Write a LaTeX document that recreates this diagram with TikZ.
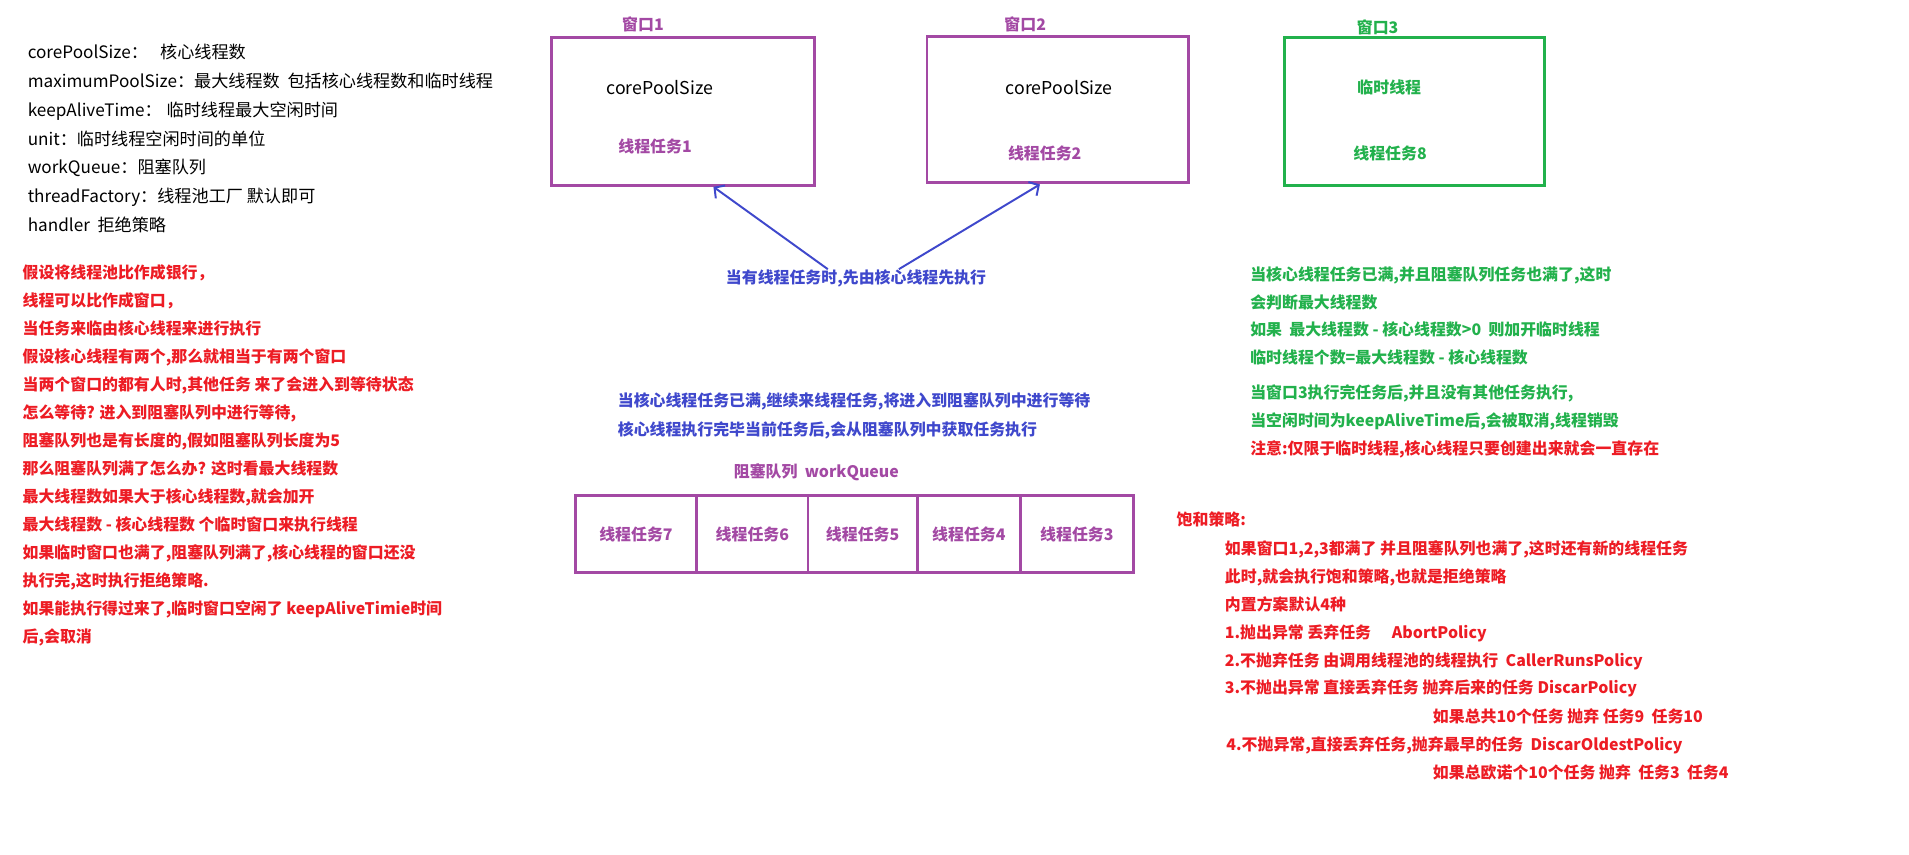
\documentclass[tikz,border=0pt]{standalone}
\usepackage{fontspec}
\setmainfont{Noto Sans CJK SC}
\usetikzlibrary{positioning, arrows.meta}

\definecolor{pred}{HTML}{ED1C24}
\definecolor{pgreen}{HTML}{22B14C}
\definecolor{ppurple}{HTML}{A349A4}
\definecolor{pblue}{HTML}{3F48CC}

\begin{document}
\begin{tikzpicture}[x = 1pt, y = -1pt,
		txt/.style = {anchor = base west, inner sep = 0, align = left},
		note/.style = {txt, font = \fontsize{13}{22.9}\selectfont\bfseries},
		win/.style = {line width = 2.4pt, inner sep = 0},
		cell/.style = {draw = ppurple, line width = 2.2pt, minimum height = 63.2pt, inner sep = 0, outer sep = 0, text = ppurple, font = \fontsize{13}{15}\selectfont\bfseries},
		arr/.style = {draw = pblue, line width = 1.6pt, -{Straight Barb[length = 6pt, width = 13pt]}}]
		\fill [white] (0,0) rectangle (1560,698);
		\useasboundingbox (0,0) rectangle (1560,698);
		
		\node (params) at (22.5,189.2) [txt, font = \fontsize{14}{23.55}\selectfont] {corePoolSize：\hspace{10pt}核心线程数\\maximumPoolSize：最大线程数\ \ 包括核心线程数和临时线程\\keepAliveTime：\hspace{4pt}临时线程最大空闲时间\\unit：临时线程空闲时间的单位\\workQueue：阻塞队列\\threadFactory：线程池工厂 默认即可\\handler\ \ 拒绝策略};
		
		\node (story) at (18.3,525.2) [note, text = pred, font = \fontsize{13}{22.88}\selectfont\bfseries] {假设将线程池比作成银行，\\线程可以比作成窗口，\\当任务来临由核心线程来进行执行\\假设核心线程有两个,那么就相当于有两个窗口\\当两个窗口的都有人时,其他任务 来了会进入到等待状态\\怎么等待? 进入到阻塞队列中进行等待,\\阻塞队列也是有长度的,假如阻塞队列长度为5\\那么阻塞队列满了怎么办? 这时看最大线程数\\最大线程数如果大于核心线程数,就会加开\\最大线程数 - 核心线程数 个临时窗口来执行线程\\如果临时窗口也满了,阻塞队列满了,核心线程的窗口还没\\执行完,这时执行拒绝策略.\\如果能执行得过来了,临时窗口空闲了 keepAliveTimie时间\\后,会取消};
		
		\node (win1) at (558,91.2) [win, draw = ppurple, minimum width = 214.5pt, minimum height = 120.6pt] {};
		\node (lab1) at (525.4,19.9) [note, anchor = center, text = ppurple] {窗口1};
		\node (core1) at (539.3,71.8) [anchor = center, inner sep = 0, font = \fontsize{14.5}{17}\selectfont] {corePoolSize};
		\node (task1) at (535.3,119.6) [note, anchor = center, text = ppurple] {线程任务1};
		
		\node (win2) at (864.3,89.5) [win, draw = ppurple, minimum width = 213.6pt, minimum height = 120pt] {};
		\node (lab2) at (837.8,19.9) [note, anchor = center, text = ppurple] {窗口2};
		\node (core2) at (865.6,71.8) [anchor = center, inner sep = 0, font = \fontsize{14.5}{17}\selectfont] {corePoolSize};
		\node (task2) at (853.7,125) [note, anchor = center, text = ppurple] {线程任务2};
		
		\node (win3) at (1155.6,91.2) [win, draw = pgreen, minimum width = 212.3pt, minimum height = 120.6pt] {};
		\node (lab3) at (1125.8,22.2) [note, anchor = center, text = pgreen] {窗口3};
		\node (temp) at (1135.3,71.6) [note, anchor = center, text = pgreen] {临时线程};
		\node (task8) at (1135.9,125.2) [note, anchor = center, text = pgreen] {线程任务8};
		
		\node (hint) at (699.5,227.3) [note, anchor = center, text = pblue] {当有线程任务时,先由核心线程先执行};
		\draw [arr] ([xshift = -23pt]hint.north) -- ([xshift = 25pt]win1.south);
		\draw [arr] ([xshift = 35pt]hint.north) -- ([xshift = -14.5pt]win2.south);
		
		\node (wait) at (504.7,355.6) [note, text = pblue, font = \fontsize{13}{23.1}\selectfont\bfseries] {当核心线程任务已满,继续来线程任务,将进入到阻塞队列中进行等待\\核心线程执行完毕当前任务后,会从阻塞队列中获取任务执行};
		\node (qlab) at (599.5,389.8) [note, text = ppurple] {阻塞队列\ \ workQueue};
		
		\node (q7) at (470.1,436.4) [cell, anchor = west, minimum width = 99.2pt] {线程任务7\hspace{13pt}};
		\node (q6) [cell, right = 0pt of q7, minimum width = 91pt] {线程任务6\hspace{9pt}};
		\node (q5) [cell, right = 0pt of q6, minimum width = 89.2pt] {线程任务5\hspace{11pt}};
		\node (q4) [cell, right = 0pt of q5, minimum width = 84.5pt] {线程任务4\hspace{4pt}};
		\node (q3) [cell, right = 0pt of q4, minimum width = 92pt] {线程任务3};
		
		\node (full) at (1021.5,297) [note, text = pgreen, font = \fontsize{13}{22.6}\selectfont\bfseries] {当核心线程任务已满,并且阻塞队列任务也满了,这时\\会判断最大线程数\\如果\ \ 最大线程数 - 核心线程数>0\ \ 则加开临时线程\\临时线程个数=最大线程数 - 核心线程数};
		\node (idle) at (1021.5,348.5) [note, text = pgreen, font = \fontsize{13}{23}\selectfont\bfseries] {当窗口3执行完任务后,并且没有其他任务执行,\\当空闲时间为keepAliveTime后,会被取消,线程销毁};
		\node (only) at (1021.5,371) [note, text = pred] {注意:仅限于临时线程,核心线程只要创建出来就会一直存在};
		
		\node (sat) at (961.4,429.2) [note, text = pred] {饱和策略:};
		\node (policy) at (1000.8,567.1) [note, text = pred, font = \fontsize{13}{22.77}\selectfont\bfseries] {如果窗口1,2,3都满了 并且阻塞队列也满了,这时还有新的线程任务\\此时,就会执行饱和策略,也就是拒绝策略\\内置方案默认4种\\1.抛出异常 丢弃任务\hspace{17pt}AbortPolicy\\2.不抛弃任务 由调用线程池的线程执行\ \ CallerRunsPolicy\\3.不抛出异常 直接丢弃任务 抛弃后来的任务 DiscarPolicy};
		\node (ex3) at (1170.8,590.2) [note, text = pred] {如果总共10个任务 抛弃 任务9\ \ 任务10};
		\node (p4) at (1002,613.2) [note, text = pred] {4.不抛异常,直接丢弃任务,抛弃最早的任务\ \ DiscarOldestPolicy};
		\node (ex4) at (1170.8,636) [note, text = pred] {如果总欧诺个10个任务 抛弃\ \ 任务3\ \ 任务4};
\end{tikzpicture}
\end{document}
